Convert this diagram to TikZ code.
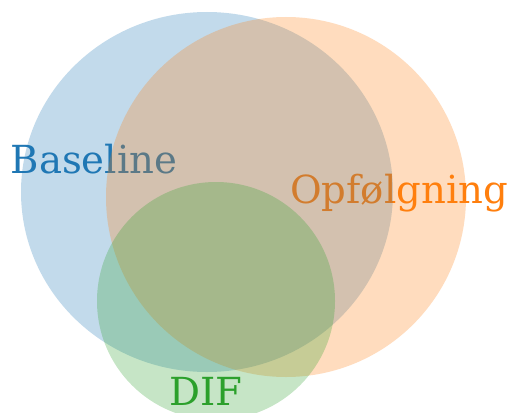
\documentclass[tikz,border=0pt]{standalone}
\usepackage{fontspec}
\setmainfont{DejaVu Serif}
\definecolor{tabblue}{HTML}{1F77B4}
\definecolor{taborange}{HTML}{FF7F0E}
\definecolor{tabgreen}{HTML}{2CA02C}
\tikzset{
	set/.style={fill=#1, fill opacity=0.27, draw=none},
	setlabel/.style={text=#1, anchor=base, inner sep=0pt, font=\fontsize{22}{26}\selectfont}
}
\begin{document}
\begin{tikzpicture}[x=0.02cm,y=-0.02cm]
		\useasboundingbox (0,0) rectangle (509,412);
		% labels first, the sets lie over them
		\node[setlabel=tabblue] (baseline) at (94,173) {Baseline};
		\node[setlabel=taborange] (opf) at (399,203) {Opfølgning};
		\node[setlabel=tabgreen] (dif) at (206,405) {DIF};
		% the three sets
		\fill[set=tabblue] (207,192) ellipse [x radius=186, y radius=180];
		\fill[set=taborange] (286,197) circle [radius=180];
		\fill[set=tabgreen] (216,301) circle [radius=119];
	\end{tikzpicture}
\end{document}
